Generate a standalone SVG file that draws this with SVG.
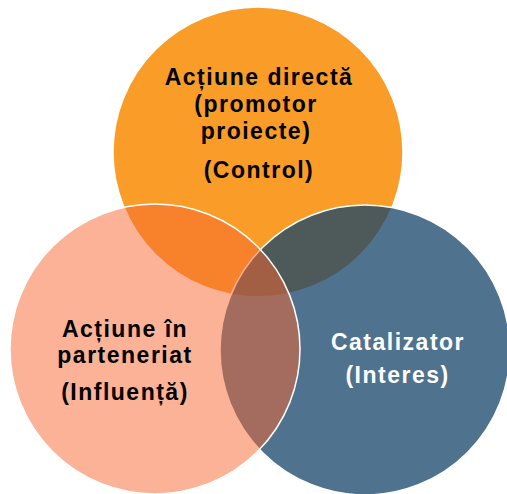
<svg xmlns="http://www.w3.org/2000/svg" width="507" height="494" viewBox="0 0 507 494">
<style>
.c{stroke:#ffffff;stroke-width:1.5}
.t{font-family:"Liberation Sans",Arial,sans-serif;font-weight:bold;font-size:23px;letter-spacing:1.5px;text-anchor:middle}
</style>
<rect width="507" height="494" fill="#ffffff"/>
<g id="node-control">
<circle class="c" cx="258" cy="152" r="145" fill="#F99D28" stroke="none"/>
</g>
<g id="node-interes">
<circle class="c" cx="365" cy="350" r="145" fill="#144369" fill-opacity="0.75"/>
</g>
<g id="node-influenta">
<circle class="c" cx="155" cy="349" r="145" fill="#F7652F" fill-opacity="0.5"/>
</g>
<g id="labels">
<text class="t" fill="#000000"><tspan x="259" y="85">Acțiune directă</tspan><tspan x="256" y="112">(promotor</tspan><tspan x="256" y="139">proiecte)</tspan><tspan x="259" y="178">(Control)</tspan></text>
<text class="t" fill="#000000"><tspan x="125" y="337">Acțiune în</tspan><tspan x="125" y="363">parteneriat</tspan><tspan x="125" y="400">(Influență)</tspan></text>
<text class="t" fill="#ffffff"><tspan x="398" y="350">Catalizator</tspan><tspan x="397.5" y="383">(Interes)</tspan></text>
</g>
<g id="connectors"/>
</svg>
